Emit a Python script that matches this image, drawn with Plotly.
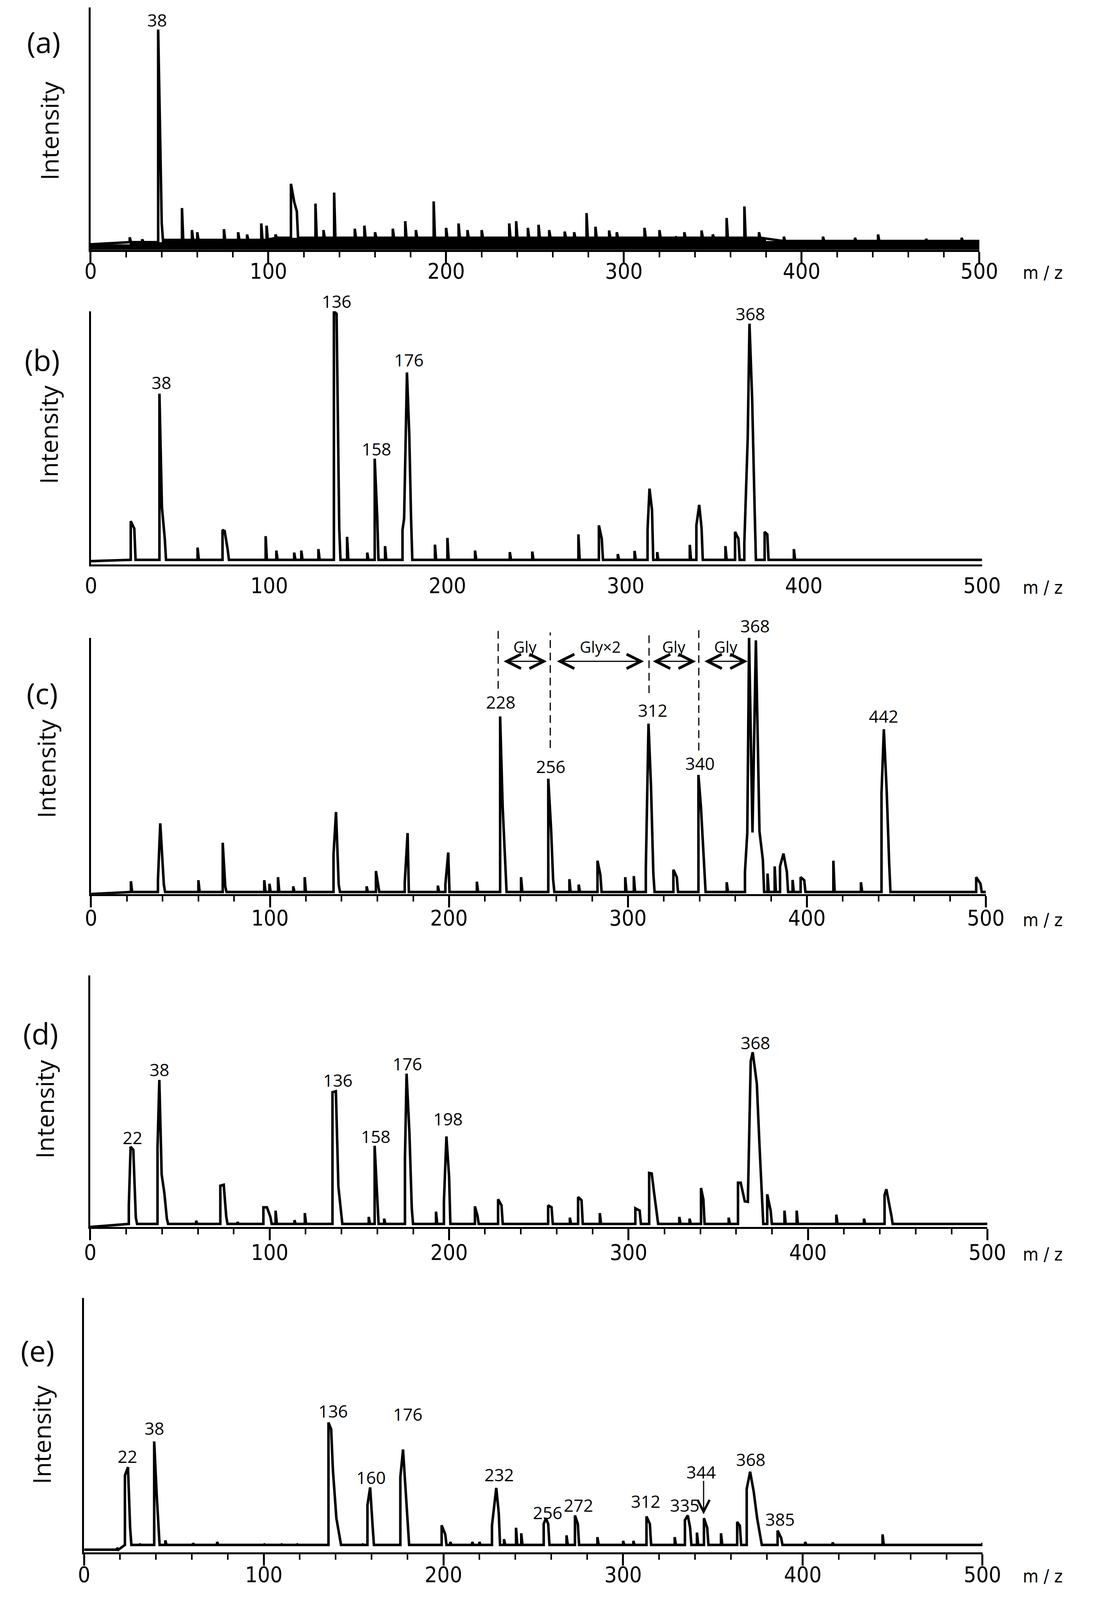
import plotly.graph_objects as go

W = 2808
REF_H = 4271
H = 4090            # visible page height; reference rows are scaled to fit it
SY = H / REF_H

# ---- peak lists (m/z, relative intensity) ----
a_mz = [22, 29, 38, 40, 51.4, 57, 60, 75, 83, 88, 96, 99, 104, 112.7, 114.6, 116, 126.5, 131, 137,
        148.6, 154, 160, 170, 177, 183, 193, 200, 207, 212, 220, 235.5, 239.4, 246, 252, 258, 266.7,
        272, 279, 284, 291.7, 296, 311.6, 320, 329, 334, 343.7, 350, 357.8, 367.8, 376, 390, 412,
        430, 443, 470, 490]
a_int = [5.7, 4.8, 100, 12, 19, 9, 8, 9.4, 8, 7, 12, 11, 7, 30, 21.5, 17.5, 21, 9, 26,
         9.6, 11, 8, 9.6, 13, 9, 22, 10, 12, 9, 9, 12, 13, 10, 11.4, 9, 8.3,
         8, 16.7, 10.5, 8.8, 8, 10, 9, 6, 8, 8.8, 7, 14.5, 19.7, 8, 6, 6,
         5.5, 7, 5, 5.5]
a_floor_mz = [0, 22, 40, 100, 260, 380, 500]
a_floor = [2.5, 3.5, 4.5, 5.5, 5.5, 4.0, 4.0]

b_mz = [22.3, 24.3, 38.4, 39.8, 41.4, 59.8, 73.8, 75, 76.7, 98, 104, 114, 118, 127.6, 136.3, 137.8,
        139.3, 143.7, 155, 159.2, 160.6, 165, 174.8, 175.7, 177.3, 178.6, 179.6, 193, 200, 215.5,
        235, 247.6, 273.5, 285, 286.6, 295.6, 305, 312.3, 313.4, 314.8, 317.7, 336, 339.7, 341.3,
        342.6, 356, 361.4, 363.3, 366.6, 368.5, 369.5, 371, 372.4, 378, 379.5, 394.4]
b_int = [16, 13, 67, 21.6, 9, 5.4, 12.5, 12, 4.6, 10, 4.2, 3.4, 4.2, 4.8, 100, 99,
         13, 9.7, 3.4, 41, 18, 6, 12.5, 17, 75.5, 50.5, 17, 6.6, 9.3, 4.2,
         3.6, 3.8, 10.7, 14.3, 9, 2.8, 4.1, 12.5, 29, 20.6, 3.6, 6.5, 14.3, 22.5,
         13.3, 6, 11.7, 9, 7, 49, 95, 65, 20.6, 11.7, 10.7, 4.8]
b_floor_mz = [0, 22, 500]
b_floor = [0.0, 0.5, 0.5]

c_mz = [22.3, 37.4, 38.7, 40.7, 60, 73.6, 75, 96.8, 99.7, 104.5, 113, 119.4, 135.5, 136.9, 138.4,
        154, 159.2, 160.4, 175.3, 176.9, 193.8, 198, 199.6, 215.6, 228.6, 230, 231.5, 240.3, 255.5,
        257.1, 258.2, 267.3, 272.5, 283, 284.6, 298.5, 303.3, 310, 311.5, 312.9, 314.2, 325.4,
        327.3, 339.4, 340.8, 342.7, 355.2, 365.4, 366.7, 367.7, 369.6, 371.5, 373.5, 375.4, 378,
        382, 385, 386.9, 388.8, 392, 396.5, 398.5, 414.8, 430.2, 441.7, 443, 444.6, 446, 494.6, 497]
c_int = [5, 5.4, 27.6, 3.7, 5.4, 20, 3, 5.4, 4, 6.6, 3, 6.6, 15.3, 32, 3.7,
         3, 9, 4.5, 4.5, 23.8, 3.3, 3.7, 16.2, 4.8, 69.3, 34.4, 7.5, 6.6, 45,
         25, 5.8, 5.8, 3.7, 13, 7.5, 6.6, 7, 9.5, 66.5, 42, 8, 9.5,
         6.6, 46.5, 34, 11.6, 4.6, 8.7, 24, 100, 24, 99, 24.5, 13.3, 8,
         10.8, 10.8, 15.8, 8.7, 5.5, 6.6, 5.4, 13, 4.6, 39.4, 64.3, 40, 11.6, 6.6, 4]
c_floor_mz = [0, 22, 500]
c_floor = [0.0, 0.8, 0.8]

d_mz = [21.5, 22.5, 24, 25.4, 37.5, 38.5, 39.8, 41.3, 42.7, 59, 72.5, 74.4, 75.8, 82, 96.5, 98.5,
        100.4, 103.3, 113.8, 119.6, 135, 136.9, 138.3, 139.8, 155.2, 158.5, 160, 163.8, 175.4,
        176.3, 177.9, 179.2, 192.7, 197.1, 198.5, 200, 214.4, 215.8, 227.3, 229.2, 255.2, 257.1,
        267.3, 271.9, 273.8, 284, 303.8, 306.2, 311.5, 312.9, 314.2, 315.8, 328.3, 334, 340.4,
        341.7, 355.8, 361, 362.5, 364.8, 366.5, 368.1, 369.2, 370.6, 371.5, 373, 374.4, 377.3,
        379.2, 386.9, 393.7, 415.8, 431.2, 442.7, 443.7, 445, 446.5]
d_int = [8.6, 31.9, 30.7, 3.7, 31.5, 58.5, 20.9, 13.5, 3.3, 2.5, 16.4, 16.8, 4.1, 2, 7.8, 7.8,
         4, 6.5, 2.7, 5.5, 53.6, 54, 16, 7, 4, 32.3, 9.8, 3.3, 27.4,
         61, 37.2, 7.4, 6.1, 9.8, 36, 20, 8.2, 4.5, 11, 8.6, 8.6, 7.8,
         3.7, 11.9, 10.6, 5.5, 7.4, 6.5, 21.5, 21.3, 13.9, 5.3, 4, 3.3, 15.5,
         11, 3.7, 17.6, 17.6, 10.2, 10, 66, 69.5, 62, 57, 32.3, 12.7, 13,
         6.5, 6.5, 6.5, 4.9, 3.3, 12.7, 15, 10.6, 4.5]
d_floor_mz = [0, 21, 500]
d_floor = [0.0, 1.2, 1.2]

e_mz = [18.3, 22.7, 24.4, 25.6, 30.8, 39, 40.4, 41.3, 45.2, 60.6, 74, 100, 109.6, 118.3, 136,
        137.5, 138.5, 140.4, 142.3, 154.8, 157.7, 159.2, 160.6, 176, 177.5, 178.8, 180.2, 199,
        201, 203.8, 216, 220, 227, 229.4, 230.8, 233.7, 240.4, 243.3, 249, 255.8, 257, 258.3,
        268.5, 273.2, 274.8, 285.7, 300, 305.7, 313, 314.9, 328.7, 334.4, 336, 337.3, 341.1,
        345, 346.8, 354.5, 363.5, 365, 368.8, 370.7, 372.7, 374.6, 376.5, 386, 388, 401.3,
        416.6, 444.4, 500]
e_int = [1.1, 29.7, 33, 9, 2.6, 43.2, 22, 10.5, 4, 2.9, 3.4, 2.6, 2.6, 2.6, 50.7,
         48, 31.6, 12.8, 4.5, 2.6, 18, 25, 9.4, 29, 40, 26, 9, 10,
         6.4, 3.4, 3.4, 3.4, 9.8, 24.8, 14.7, 4.5, 9, 6.8, 2.4, 10.5, 12.8, 10.5,
         6, 13.9, 10.5, 5.3, 3.8, 3.8, 13.5, 10.5, 5.3, 12, 13.9, 9, 7.1,
         12.8, 9, 6.8, 11.3, 9.8, 24.4, 31.2, 23.3, 12.8, 5.3, 7.9, 4.9, 3.4,
         3.2, 6.4, 3]
e_floor_mz = [0, 20, 500]
e_floor = [0.3, 2.2, 2.2]

# ---- peak labels (text, m/z, intensity) ----
a_lab = ["38"]
a_lab_mz = [37.4]
a_lab_y = [104.4]

b_lab = ["38", "136", "158", "176", "368"]
b_lab_mz = [39.4, 137.9, 160.2, 178.3, 369.9]
b_lab_y = [71.5, 104, 45, 80.6, 99]

c_lab = ["228", "256", "312", "340", "368", "442"]
c_lab_mz = [228.8, 256.9, 313.8, 340.3, 371, 442.8]
c_lab_y = [75, 49.8, 71.8, 51, 104.7, 69.4]

d_lab = ["22", "38", "136", "158", "176", "198", "368"]
d_lab_mz = [23.5, 38.5, 137.9, 159, 176.7, 199.4, 370.6]
d_lab_y = [35.6, 62.7, 58.5, 36, 65, 43, 73.3]

e_lab = ["22", "38", "136", "160", "176", "232", "256", "272", "312", "335", "344", "368", "385"]
e_lab_mz = [24, 39, 138.5, 159.7, 180, 231, 258, 275, 312.4, 334.3, 343.4, 371, 387.4]
e_lab_y = [37.3, 48.5, 55.3, 28.9, 54.1, 30.1, 15.1, 18.0, 19.5, 18.0, 31.2, 36.1, 12.4]

# ---- Gly ladder in (c) and arrow in (e) ----
gly_lines_mz = [227.5, 256.6, 311.8, 339.6]
gly_lines_top = [103.8, 102.1, 102.4, 103.8]
gly_lines_bottom = [80.1, 57.0, 78.4, 56.0]
gly_from = [230.2, 260.0, 313.6, 342.4]
gly_to = [254.7, 309.0, 338.0, 366.9]
gly_text = ["Gly", "Gly\u00d72", "Gly", "Gly"]
gly_arrow_y = 90.8
gly_text_y = 96.5

e_arrow_mz = 344.8
e_arrow_top = 27.8
e_arrow_tip = 14.3

# panel geometry in reference pixels: x of 0 and 500, y of axis top and x axis
panels = [
    dict(tag="(a)", mz=a_mz, it=a_int, fmz=a_floor_mz, fl=a_floor, lab=a_lab, lmz=a_lab_mz, ly=a_lab_y,
         x0=221, x1=2549, top=20, base=668, yr=[0, 110], ext=110, ticks=True, tly=733,
         tagxy=(98, 112), intxy=(112, 350)),
    dict(tag="(b)", mz=b_mz, it=b_int, fmz=b_floor_mz, fl=b_floor, lab=b_lab, lmz=b_lab_mz, ly=b_lab_y,
         x0=222, x1=2556, top=832, base=1509, yr=[-1.35, 100], ext=110, ticks=False, tly=1575,
         tagxy=(94, 962), intxy=(110, 1162)),
    dict(tag="(c)", mz=c_mz, it=c_int, fmz=c_floor_mz, fl=c_floor, lab=c_lab, lmz=c_lab_mz, ly=c_lab_y,
         x0=222, x1=2566, top=1705, base=2390, yr=[0, 100], ext=110, ticks=True, tly=2463,
         tagxy=(94, 1852), intxy=(104, 2055)),
    dict(tag="(d)", mz=d_mz, it=d_int, fmz=d_floor_mz, fl=d_floor, lab=d_lab, lmz=d_lab_mz, ly=d_lab_y,
         x0=220, x1=2570, top=2608, base=3280, yr=[0, 100], ext=100, ticks=True, tly=3357,
         tagxy=(90, 2762), intxy=(100, 2965)),
    dict(tag="(e)", mz=e_mz, it=e_int, fmz=e_floor_mz, fl=e_floor, lab=e_lab, lmz=e_lab_mz, ly=e_lab_y,
         x0=204, x1=2557, top=3470, base=4150, yr=[-0.75, 100], ext=100, ticks=True, tly=4218,
         tagxy=(82, 3610), intxy=(92, 3835)),
]

TICKFONT = dict(family="Liberation Sans Narrow, DejaVu Sans Condensed, sans-serif", size=round(58 * SY),
                color="black")
LABFONT = dict(family="Open Sans, sans-serif", size=round(46 * SY), color="black")
TICKLEN = 29


def floor_at(fmz, fl, m):
    v = fl[0]
    for k in range(len(fmz)):
        if fmz[k] <= m:
            v = fl[k]
    return v


def spectrum(mz, it, fmz, fl):
    # stick spectrum: rise at each peak, fall back to the floor when the next peak is far
    pts = sorted(zip(mz, it))
    xs, ys = [0], [floor_at(fmz, fl, 0)]
    n = len(pts)
    for i, (m, h) in enumerate(pts):
        prev = pts[i - 1][0] if i > 0 else -99
        nxt = pts[i + 1][0] if i < n - 1 else 999
        b = floor_at(fmz, fl, m)
        if m - prev > 2.5:
            xs.append(m)
            ys.append(b)
        xs.append(m)
        ys.append(h)
        if nxt - m > 2.5:
            xs.append(m + 0.7)
            ys.append(b)
    xs.append(500)
    ys.append(floor_at(fmz, fl, 500))
    return xs, ys


fig = go.Figure()
annotations = []
shapes = []

for i, p in enumerate(panels, start=1):
    xa = "x" if i == 1 else f"x{i}"
    ya = "y" if i == 1 else f"y{i}"
    j = i + 5
    xo, yo = f"x{j}", f"y{j}"
    top, base, tly = p["top"] * SY, p["base"] * SY, p["tly"] * SY
    if i == 1:
        fig.add_trace(go.Scatter(x=a_floor_mz, y=a_floor, mode="lines", line=dict(width=0, shape="hv"),
                                 fill="tozeroy", fillcolor="black", xaxis=xa, yaxis=ya, hoverinfo="skip"))
    xs, ys = spectrum(p["mz"], p["it"], p["fmz"], p["fl"])
    fig.add_trace(go.Scatter(x=xs, y=ys, mode="lines", line=dict(color="black", width=6.5),
                             xaxis=xa, yaxis=ya, hoverinfo="skip"))

    xdom = [p["x0"] / W, p["x1"] / W]
    ydom = [1 - base / H, 1 - top / H]
    xcfg = dict(domain=xdom, range=[0, 500], anchor=ya, showline=True, linecolor="black", linewidth=5,
                showgrid=False, zeroline=False, tick0=0, dtick=100, tickfont=TICKFONT)
    if p["ticks"]:
        xcfg.update(ticks="outside", ticklen=TICKLEN, tickwidth=5, tickcolor="black",
                    minor=dict(dtick=20, ticks="outside", ticklen=14, tickwidth=4, tickcolor="black"),
                    ticklabelstandoff=int(tly - base - TICKLEN - 62))
    else:
        xcfg.update(ticks="", ticklabelstandoff=int(tly - base - 62))
    ycfg = dict(domain=ydom, range=p["yr"], anchor=xa, showline=True, linecolor="black", linewidth=5,
                showgrid=False, zeroline=False, ticks="", showticklabels=False)
    fig.layout["xaxis" if i == 1 else f"xaxis{i}"] = xcfg
    fig.layout["yaxis" if i == 1 else f"yaxis{i}"] = ycfg

    # invisible twin that reaches a little higher, for labels above the axis top
    unit = (base - top) / (p["yr"][1] - p["yr"][0])
    top_ext = base - (p["ext"] - p["yr"][0]) * unit
    fig.layout[f"xaxis{j}"] = dict(domain=xdom, range=[0, 500], anchor=yo, visible=False)
    fig.layout[f"yaxis{j}"] = dict(domain=[1 - base / H, 1 - top_ext / H], range=[p["yr"][0], p["ext"]],
                                   anchor=xo, visible=False)
    fig.add_trace(go.Scatter(x=[None], y=[None], xaxis=xo, yaxis=yo, hoverinfo="skip"))

    for t, m, y in zip(p["lab"], p["lmz"], p["ly"]):
        annotations.append(dict(text=t, x=m, y=y, xref=xo, yref=yo, showarrow=False,
                                xanchor="center", yanchor="middle", font=LABFONT))

    annotations.append(dict(text=p["tag"], x=p["tagxy"][0] / W, y=1 - p["tagxy"][1] * SY / H,
                            xref="paper", yref="paper", showarrow=False, xanchor="center", yanchor="middle",
                            font=dict(family="Open Sans, sans-serif", size=round(78 * SY), color="black")))
    annotations.append(dict(text="Intensity", x=p["intxy"][0] / W, y=1 - p["intxy"][1] * SY / H, xref="paper",
                            yref="paper", showarrow=False, textangle=-90, xanchor="center", yanchor="middle",
                            font=dict(family="Open Sans, sans-serif", size=round(66 * SY), color="black")))
    annotations.append(dict(text="m / z", x=2715 / W, y=1 - (tly - 4) / H, xref="paper", yref="paper",
                            showarrow=False, xanchor="center", yanchor="middle",
                            font=dict(family="DejaVu Sans Condensed, sans-serif", size=round(48 * SY),
                                      color="black")))

# Gly ladder drawn on the twin of panel (c)
for m, t, b in zip(gly_lines_mz, gly_lines_top, gly_lines_bottom):
    shapes.append(dict(type="line", xref="x8", yref="y8", x0=m, x1=m, y0=b, y1=t,
                       line=dict(color="black", width=3, dash="20px,12px")))
for f, t, txt in zip(gly_from, gly_to, gly_text):
    annotations.append(dict(text="", x=t, y=gly_arrow_y, ax=f, ay=gly_arrow_y, xref="x8", yref="y8",
                            axref="x8", ayref="y8", showarrow=True, arrowside="end+start",
                            arrowhead=5, startarrowhead=5, arrowsize=2.4, startarrowsize=2.4,
                            arrowwidth=3, arrowcolor="black", standoff=0, startstandoff=0))
    annotations.append(dict(text=txt, x=(f + t) / 2, y=gly_text_y, xref="x8", yref="y8", showarrow=False,
                            xanchor="center", yanchor="middle",
                            font=dict(family="Open Sans, sans-serif", size=round(42 * SY), color="black")))

annotations.append(dict(text="", x=e_arrow_mz, y=e_arrow_tip, ax=e_arrow_mz, ay=e_arrow_top, xref="x10", yref="y10",
                        axref="x10", ayref="y10", showarrow=True, arrowhead=5, arrowsize=2, arrowwidth=3,
                        arrowcolor="black", standoff=0))

fig.update_layout(width=W, height=H, margin=dict(l=0, r=0, t=0, b=0), showlegend=False,
                  paper_bgcolor="white", plot_bgcolor="rgba(0,0,0,0)", annotations=annotations, shapes=shapes)

fig.write_html("out.html", config={"displayModeBar": False},
               post_script="document.body.style.margin='0';document.body.style.overflow='hidden';")
